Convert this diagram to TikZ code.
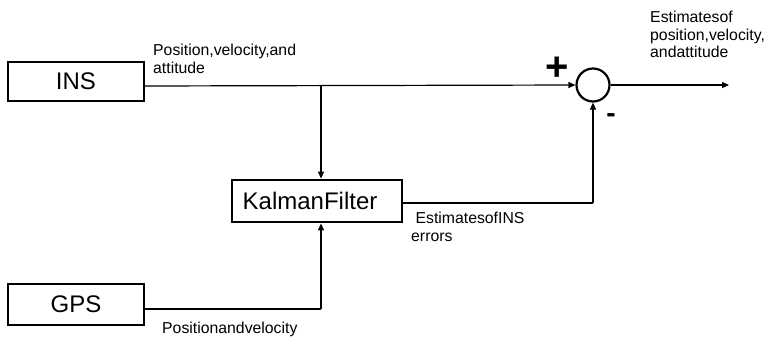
\documentclass[tikz,border=0pt]{standalone}
\usepackage{fontspec}
\setmainfont{Liberation Sans}
\usetikzlibrary{arrows.meta}
\begin{document}
\begin{tikzpicture}[x=1pt,y=-1pt,
  blockbox/.style={draw,line width=2.8pt,inner sep=0pt,font=\fontsize{24}{27}\selectfont},
  conn/.style={line width=1.2pt},
  arr/.style={line width=1.2pt,-{Triangle[length=7pt,width=6pt]}},
  lbl/.style={inner sep=0pt,anchor=north west,align=left,font=\fontsize{15.8}{17.5}\selectfont}]
\useasboundingbox (0,0) rectangle (767,338);
% blocks
\node[blockbox,minimum width=136pt,minimum height=39pt] (ins) at (76,81.5) {INS};
\node[blockbox,minimum width=136pt,minimum height=41pt] (gps) at (76,304.5) {GPS};
\node[blockbox,minimum width=170pt,minimum height=42pt] (kf) at (317,201) {};
\node[inner sep=0pt,font=\fontsize{24}{27}\selectfont] (kft) at (310,201) {KalmanFilter};
\node[draw,circle,line width=2.2pt,minimum size=33pt,inner sep=0pt] (sum) at (593,85) {};
% coordinates
\coordinate (insout) at (144,86);
\coordinate (branch) at (321,86);
\coordinate (out) at (729,85);
\coordinate (kfout) at (402,203);
\coordinate (kfcorner) at (593,203);
\coordinate (gpsout) at (144,309);
\coordinate (gpscorner) at (321,309);
% connectors
\draw[arr] (insout) -- (sum.west);
\draw[arr] (branch) -- (branch |- kf.north);
\draw[arr] (sum.east) -- (out);
\draw[conn] (kfout) -- (kfcorner);
\draw[arr] (kfcorner) -- (sum.south);
\draw[conn] (gpsout) -- (gpscorner);
\draw[arr] (gpscorner) -- (gpscorner |- kf.south);
% labels
\node[lbl] (l1) at (153,44) {Position,velocity,and\\attitude};
\node[lbl] (l2) at (650,11) {Estimatesof\\position,velocity,\\andattitude};
\node[lbl] (l3) at (411,212) {\ EstimatesofINS\\errors};
\node[lbl] (l4) at (162,322) {Positionandvelocity};
\node[inner sep=0pt,font=\fontsize{40}{40}\bfseries] (plus) at (557,69) {+};
\node[inner sep=0pt,font=\fontsize{28}{28}\bfseries] (minus) at (611,118) {-};
\end{tikzpicture}
\end{document}
